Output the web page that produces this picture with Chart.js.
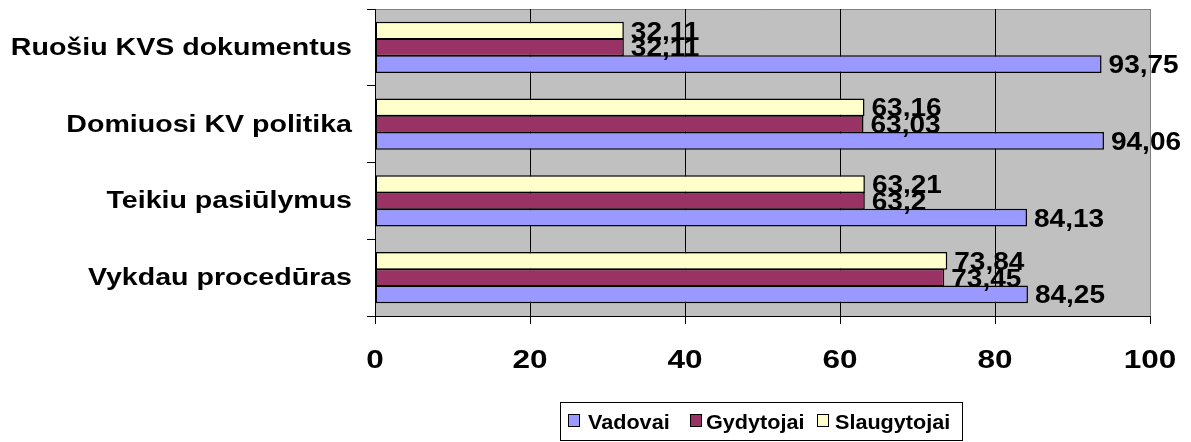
<!DOCTYPE html>
<html>
<head>
<meta charset="utf-8">
<script src="https://cdn.jsdelivr.net/npm/chart.js@4.4.0/dist/chart.umd.min.js"></script>
<style>
  html, body { margin: 0; padding: 0; background: #ffffff; }
  canvas { display: block; }
</style>
</head>
<body>
<canvas id="chart" width="1191" height="442"></canvas>
<script>
// Categories, listed top to bottom
const CATEGORIES = ['Ruošiu KVS dokumentus', 'Domiuosi KV politika', 'Teikiu pasiūlymus', 'Vykdau procedūras'];

// Series values (%)
const VADOVAI = [93.75, 94.06, 84.13, 84.25];
const GYDYTOJAI = [32.11, 63.03, 63.2, 73.45];
const SLAUGYTOJAI = [32.11, 63.16, 63.21, 73.84];

const SERIES_NAMES = ['Vadovai', 'Gydytojai', 'Slaugytojai'];
const X_TICKS = [0, 20, 40, 60, 80, 100];

const COLORS = { Vadovai: '#9999FF', Gydytojai: '#993366', Slaugytojai: '#FFFFCC' };
const PLOT_BG = '#C0C0C0';
const FRAME_GREY = '#808080';
const FONT_FAMILY = '"Liberation Sans", Arial, Helvetica, sans-serif';

const fmt = v => String(v).replace('.', ',');

// Bold text, widened horizontally around its anchor point
function drawWideText(ctx, text, x, y, size, stretch, align) {
  ctx.save();
  ctx.font = 'bold ' + size + 'px ' + FONT_FAMILY;
  ctx.fillStyle = '#000000';
  ctx.textAlign = align;
  ctx.textBaseline = 'alphabetic';
  ctx.translate(x, y);
  ctx.scale(stretch, 1);
  ctx.fillText(text, 0, 0);
  ctx.restore();
}

// Grey plot panel with a grey frame on top and right
const plotPanel = {
  id: 'plotPanel',
  beforeDraw(chart) {
    const { ctx, chartArea: a } = chart;
    ctx.save();
    ctx.fillStyle = PLOT_BG;
    ctx.fillRect(a.left, a.top, a.right - a.left, a.bottom - a.top);
    ctx.strokeStyle = FRAME_GREY;
    ctx.lineWidth = 1;
    ctx.beginPath();
    ctx.moveTo(Math.round(a.left), Math.round(a.top) + 0.5);
    ctx.lineTo(Math.round(a.right) + 0.5, Math.round(a.top) + 0.5);
    ctx.lineTo(Math.round(a.right) + 0.5, Math.round(a.bottom));
    ctx.stroke();
    ctx.restore();
  }
};

// Value labels at the end of each bar
const valueLabels = {
  id: 'valueLabels',
  afterDatasetsDraw(chart) {
    const ctx = chart.ctx;
    chart.data.datasets.forEach((ds, di) => {
      const meta = chart.getDatasetMeta(di);
      meta.data.forEach((bar, i) => {
        drawWideText(ctx, fmt(ds.data[i]), bar.x + 7, bar.y + 9, 25, 1.12, 'left');
      });
    });
  }
};

// Axis labels and legend box
const axisAndLegend = {
  id: 'axisAndLegend',
  afterDraw(chart) {
    const ctx = chart.ctx;
    const xs = chart.scales.x;
    const ys = chart.scales.y;
    const a = chart.chartArea;

    CATEGORIES.forEach((name, i) => {
      const y = ys.getPixelForValue(i);
      drawWideText(ctx, name, a.left - 23, y + 7.5, 24, 1.19, 'right');
    });

    X_TICKS.forEach(v => {
      drawWideText(ctx, String(v), xs.getPixelForValue(v), 368, 25, 1.26, 'center');
    });

    // legend
    ctx.save();
    ctx.strokeStyle = '#000000';
    ctx.lineWidth = 1;
    ctx.strokeRect(560.5, 402.5, 402, 38);
    const items = [
      { name: SERIES_NAMES[0], box: 568, text: 588 },
      { name: SERIES_NAMES[1], box: 690, text: 706 },
      { name: SERIES_NAMES[2], box: 817, text: 835 }
    ];
    items.forEach(it => {
      ctx.fillStyle = COLORS[it.name];
      ctx.fillRect(it.box, 414, 12, 13);
      ctx.strokeStyle = '#000000';
      ctx.strokeRect(it.box + 0.5, 414.5, 11, 12);
      drawWideText(ctx, it.name, it.text, 429, 20, 1.08, 'left');
    });
    ctx.restore();
  }
};

const datasets = [
  { label: SERIES_NAMES[2], data: SLAUGYTOJAI, backgroundColor: COLORS.Slaugytojai },
  { label: SERIES_NAMES[1], data: GYDYTOJAI, backgroundColor: COLORS.Gydytojai },
  { label: SERIES_NAMES[0], data: VADOVAI, backgroundColor: COLORS.Vadovai }
].map(d => Object.assign(d, {
  borderColor: '#000000',
  borderWidth: 1.5,
  borderSkipped: false,
  inflateAmount: 0,
  categoryPercentage: 0.655,
  barPercentage: 1.06
}));

new Chart(document.getElementById('chart'), {
  type: 'bar',
  data: { labels: CATEGORIES, datasets },
  options: {
    indexAxis: 'y',
    responsive: false,
    animation: false,
    devicePixelRatio: 1,
    layout: { padding: { left: 367, top: 9, right: 41, bottom: 118 } },
    scales: {
      x: {
        type: 'linear',
        min: 0,
        max: 100,
        afterBuildTicks: s => { s.ticks = X_TICKS.map(v => ({ value: v })); },
        ticks: { display: false },
        grid: {
          color: c => (c.tick && c.tick.value === 100 ? FRAME_GREY : '#000000'),
          tickColor: '#000000',
          lineWidth: 1,
          drawTicks: true,
          tickLength: 8
        },
        border: { color: '#000000', width: 1 }
      },
      y: {
        type: 'category',
        ticks: { display: false },
        grid: {
          drawOnChartArea: false,
          drawTicks: true,
          tickLength: 8,
          color: '#000000',
          offset: true
        },
        border: { color: '#000000', width: 1 }
      }
    },
    plugins: {
      legend: { display: false },
      tooltip: { enabled: false }
    }
  },
  plugins: [plotPanel, valueLabels, axisAndLegend]
});
</script>
</body>
</html>
